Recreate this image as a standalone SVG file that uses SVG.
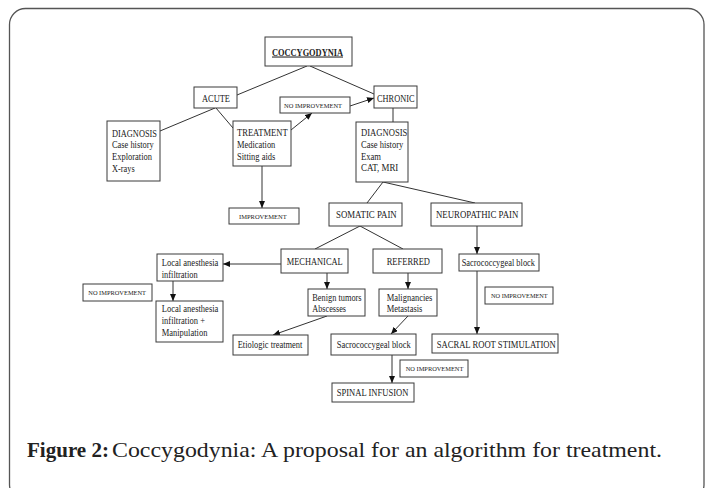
<svg xmlns="http://www.w3.org/2000/svg" width="707" height="488" viewBox="0 0 707 488">
<style>
.frame{fill:#fff;stroke:#555;stroke-width:1.3}
.box{fill:#fff;stroke:#3a3a3a;stroke-width:1}
.t{font-family:"Liberation Serif","Times New Roman",serif;font-size:10.5px;fill:#222}
.s{font-family:"Liberation Serif","Times New Roman",serif;font-size:7px;fill:#222}
.c{font-family:"Liberation Serif","Times New Roman",serif;font-size:22px;fill:#222}
#connectors line{stroke:#333;stroke-width:1;fill:none}
</style>
<defs>
<marker id="arr" markerUnits="userSpaceOnUse" markerWidth="7" markerHeight="6" refX="7" refY="3" orient="auto">
<path d="M0,0 L7,3 L0,6 z" fill="#111"/>
</marker>
</defs>
<rect class="frame" x="9.5" y="8.5" width="694.5" height="492" rx="16"/>

<g id="connectors">
<line x1="307" y1="66" x2="237" y2="95"/>
<line x1="310" y1="66" x2="374" y2="94"/>
<line x1="215" y1="108" x2="160" y2="131"/>
<line x1="216" y1="108" x2="233" y2="128"/>
<line x1="291" y1="130" x2="312" y2="113" marker-end="url(#arr)"/>
<line x1="350" y1="106" x2="374" y2="98" marker-end="url(#arr)"/>
<line x1="262" y1="166" x2="262" y2="208" marker-end="url(#arr)"/>
<line x1="393" y1="108" x2="393" y2="122"/>
<line x1="383" y1="182" x2="367" y2="203"/>
<line x1="383" y1="182" x2="475" y2="203"/>
<line x1="360" y1="226" x2="315" y2="249"/>
<line x1="360" y1="226" x2="403" y2="249"/>
<line x1="281" y1="264" x2="223" y2="264" marker-end="url(#arr)"/>
<line x1="173" y1="281" x2="173" y2="301" marker-end="url(#arr)"/>
<line x1="327" y1="273" x2="327" y2="289" marker-end="url(#arr)"/>
<line x1="327" y1="316" x2="273" y2="335" marker-end="url(#arr)"/>
<line x1="408" y1="273" x2="408" y2="289" marker-end="url(#arr)"/>
<line x1="408" y1="316" x2="391" y2="334" marker-end="url(#arr)"/>
<line x1="477" y1="226" x2="477" y2="254" marker-end="url(#arr)"/>
<line x1="477" y1="271" x2="477" y2="334" marker-end="url(#arr)"/>
<line x1="392" y1="355" x2="392" y2="383" marker-end="url(#arr)"/>
</g>

<g id="coccygodynia">
<rect class="box" x="265" y="37" width="87" height="29"/>
<text class="t" x="272" y="55.5" font-weight="bold" text-decoration="underline" textLength="71" lengthAdjust="spacingAndGlyphs">COCCYGODYNIA</text>
</g>
<g id="acute">
<rect class="box" x="194" y="87" width="43" height="21"/>
<text class="t" x="202" y="102" textLength="28" lengthAdjust="spacingAndGlyphs">ACUTE</text>
</g>
<g id="noimp-top">
<rect class="box" x="280" y="97" width="70" height="16"/>
<text class="s" x="284" y="107.5" textLength="58" lengthAdjust="spacingAndGlyphs">NO IMPROVEMENT</text>
</g>
<g id="chronic">
<rect class="box" x="374" y="86" width="43" height="22"/>
<text class="t" x="377" y="101.5" textLength="37.5" lengthAdjust="spacingAndGlyphs">CHRONIC</text>
</g>
<g id="diag-acute">
<rect class="box" x="107" y="121" width="53" height="60"/>
<text class="t" x="112" y="136.5" textLength="45" lengthAdjust="spacingAndGlyphs">DIAGNOSIS</text>
<text class="t" x="112" y="148.3" textLength="41.7" lengthAdjust="spacingAndGlyphs">Case history</text>
<text class="t" x="112" y="160" textLength="40" lengthAdjust="spacingAndGlyphs">Exploration</text>
<text class="t" x="112" y="171.5" textLength="22.7" lengthAdjust="spacingAndGlyphs">X-rays</text>
</g>
<g id="treatment">
<rect class="box" x="233" y="121" width="58" height="45"/>
<text class="t" x="237" y="136" textLength="50.7" lengthAdjust="spacingAndGlyphs">TREATMENT</text>
<text class="t" x="237" y="148.3" textLength="38.3" lengthAdjust="spacingAndGlyphs">Medication</text>
<text class="t" x="237" y="160" textLength="38.3" lengthAdjust="spacingAndGlyphs">Sitting aids</text>
</g>
<g id="diag-chronic">
<rect class="box" x="356" y="122" width="52" height="60"/>
<text class="t" x="361" y="136.2" textLength="46.3" lengthAdjust="spacingAndGlyphs">DIAGNOSIS</text>
<text class="t" x="361" y="148" textLength="42.3" lengthAdjust="spacingAndGlyphs">Case history</text>
<text class="t" x="361" y="159.7" textLength="20" lengthAdjust="spacingAndGlyphs">Exam</text>
<text class="t" x="361" y="171.3" textLength="37.3" lengthAdjust="spacingAndGlyphs">CAT, MRI</text>
</g>
<g id="improvement">
<rect class="box" x="229" y="208" width="70" height="16"/>
<text class="s" x="239" y="218.5" textLength="47.7" lengthAdjust="spacingAndGlyphs">IMPROVEMENT</text>
</g>
<g id="somatic">
<rect class="box" x="329" y="203" width="73" height="23"/>
<text class="t" x="336" y="218" textLength="60.7" lengthAdjust="spacingAndGlyphs">SOMATIC PAIN</text>
</g>
<g id="neuropathic">
<rect class="box" x="431" y="203" width="91" height="23"/>
<text class="t" x="436" y="218" textLength="82.3" lengthAdjust="spacingAndGlyphs">NEUROPATHIC PAIN</text>
</g>
<g id="local">
<rect class="box" x="157" y="254" width="66" height="27"/>
<text class="t" x="161.7" y="265.5" textLength="56.7" lengthAdjust="spacingAndGlyphs">Local anesthesia</text>
<text class="t" x="161.7" y="277.5" textLength="36" lengthAdjust="spacingAndGlyphs">infiltration</text>
</g>
<g id="noimp-left">
<rect class="box" x="83" y="284" width="69" height="17"/>
<text class="s" x="88.3" y="294.8" textLength="57.7" lengthAdjust="spacingAndGlyphs">NO IMPROVEMENT</text>
</g>
<g id="local-manip">
<rect class="box" x="156" y="301" width="67" height="41"/>
<text class="t" x="161.7" y="312.3" textLength="56.7" lengthAdjust="spacingAndGlyphs">Local anesthesia</text>
<text class="t" x="161.7" y="324.4" textLength="43.3" lengthAdjust="spacingAndGlyphs">infiltration +</text>
<text class="t" x="161.7" y="336.4" textLength="45.7" lengthAdjust="spacingAndGlyphs">Manipulation</text>
</g>
<g id="mechanical">
<rect class="box" x="281" y="249" width="67" height="24"/>
<text class="t" x="286.7" y="265" textLength="56" lengthAdjust="spacingAndGlyphs">MECHANICAL</text>
</g>
<g id="referred">
<rect class="box" x="373" y="249" width="69" height="24"/>
<text class="t" x="386.7" y="265" textLength="43.3" lengthAdjust="spacingAndGlyphs">REFERRED</text>
</g>
<g id="benign">
<rect class="box" x="308" y="289" width="57" height="27"/>
<text class="t" x="312.3" y="300.5" textLength="49.3" lengthAdjust="spacingAndGlyphs">Benign tumors</text>
<text class="t" x="312.3" y="312" textLength="33.7" lengthAdjust="spacingAndGlyphs">Abscesses</text>
</g>
<g id="malignancies">
<rect class="box" x="379" y="289" width="58" height="27"/>
<text class="t" x="386.7" y="300.5" textLength="45.7" lengthAdjust="spacingAndGlyphs">Malignancies</text>
<text class="t" x="386.7" y="312" textLength="35.7" lengthAdjust="spacingAndGlyphs">Metastasis</text>
</g>
<g id="sacro-right">
<rect class="box" x="459" y="254" width="80" height="17"/>
<text class="t" x="461.7" y="265.8" textLength="73.3" lengthAdjust="spacingAndGlyphs">Sacrococcygeal block</text>
</g>
<g id="noimp-right">
<rect class="box" x="485" y="287" width="68" height="17"/>
<text class="s" x="491" y="297.8" textLength="56.7" lengthAdjust="spacingAndGlyphs">NO IMPROVEMENT</text>
</g>
<g id="etiologic">
<rect class="box" x="233" y="335" width="75" height="20"/>
<text class="t" x="237.7" y="348.3" textLength="64.7" lengthAdjust="spacingAndGlyphs">Etiologic treatment</text>
</g>
<g id="sacro-lower">
<rect class="box" x="331" y="334" width="85" height="21"/>
<text class="t" x="336.7" y="348" textLength="74" lengthAdjust="spacingAndGlyphs">Sacrococcygeal block</text>
</g>
<g id="sacral-root">
<rect class="box" x="432" y="334" width="126" height="19"/>
<text class="t" x="436.7" y="347.8" font-size="11.5" textLength="119" lengthAdjust="spacingAndGlyphs">SACRAL ROOT STIMULATION</text>
</g>
<g id="noimp-lower">
<rect class="box" x="400" y="360" width="68" height="17"/>
<text class="s" x="405.7" y="370.8" textLength="57.7" lengthAdjust="spacingAndGlyphs">NO IMPROVEMENT</text>
</g>
<g id="spinal">
<rect class="box" x="332" y="383" width="82" height="19"/>
<text class="t" x="336.7" y="395.8" font-size="8.5" textLength="71.7" lengthAdjust="spacingAndGlyphs">SPINAL INFUSION</text>
</g>

<text class="c" x="27" y="456.5" font-weight="bold" textLength="82" lengthAdjust="spacingAndGlyphs">Figure 2:</text>
<text class="c" x="112" y="456.5" textLength="550" lengthAdjust="spacingAndGlyphs">Coccygodynia: A proposal for an algorithm for treatment.</text>
</svg>
